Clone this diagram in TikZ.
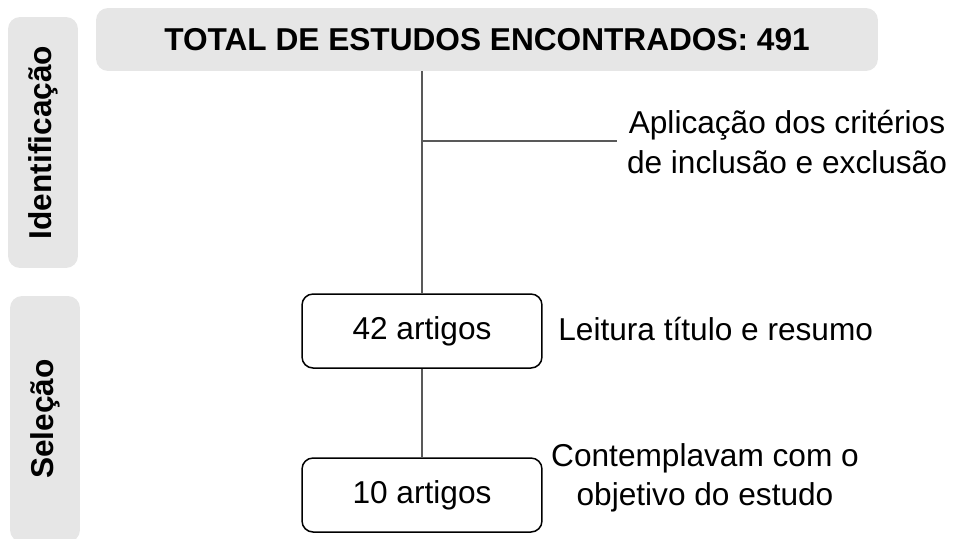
\documentclass[tikz,border=0pt]{standalone}
\usepackage{fontspec}
\setmainfont{Liberation Sans}
\usetikzlibrary{positioning}
\definecolor{cinzaclaro}{HTML}{E6E6E6}
\definecolor{cinzalinha}{HTML}{595959}
\tikzset{
	fase/.style={fill=cinzaclaro, rounded corners=0.24cm, inner sep=0pt, rotate=90, minimum height=1.4cm, font=\bfseries\fontsize{18}{22}\selectfont},
	caixa/.style={draw=black, line width=0.3mm, rounded corners=0.22cm, minimum width=4.8cm, minimum height=1.48cm, font=\fontsize{18}{22}\selectfont},
	rotulo/.style={align=center, inner xsep=0.2cm, inner ysep=0pt, font=\fontsize{18}{22.5}\selectfont},
	ligacao/.style={draw=cinzalinha, line width=0.25mm}
}
\begin{document}
\begin{tikzpicture}[x=0.02cm, y=-0.02cm]
	\useasboundingbox (0,0) rectangle (953,538);
	
	% fases
	\node[fase, minimum width=5.02cm] (ident) at (43,142.5) {Identificação};
	\node[fase, minimum width=4.92cm] (selec) at (45,419) {Seleção};
	
	\node[fill=cinzaclaro, rounded corners=0.24cm, minimum width=15.64cm, minimum height=1.26cm, font=\bfseries\fontsize{18}{22}\selectfont] (total) at (487,39.5) {TOTAL DE ESTUDOS ENCONTRADOS: 491};
	
	\node[caixa] (art42) at (422,331) {42 artigos};
	\node[caixa] (art10) at (422,495) {10 artigos};
	
	\coordinate (ramo) at (421,141);
	\node[rotulo] (criterios) at (787,142) {Aplicação dos critérios\\de inclusão e exclusão};
	\node[rotulo, anchor=base west] (leitura) at (548,340) {Leitura título e resumo};
	\node[rotulo] (objetivo) at (705,478) {Contemplavam com o\\objetivo do estudo};
	
	\draw[ligacao] (art42.north |- total.south) -- (art42.north);
	\draw[ligacao] (ramo) -- (ramo -| criterios.west);
	\draw[ligacao] (art42.south) -- (art10.north);
	
\end{tikzpicture}
\end{document}
